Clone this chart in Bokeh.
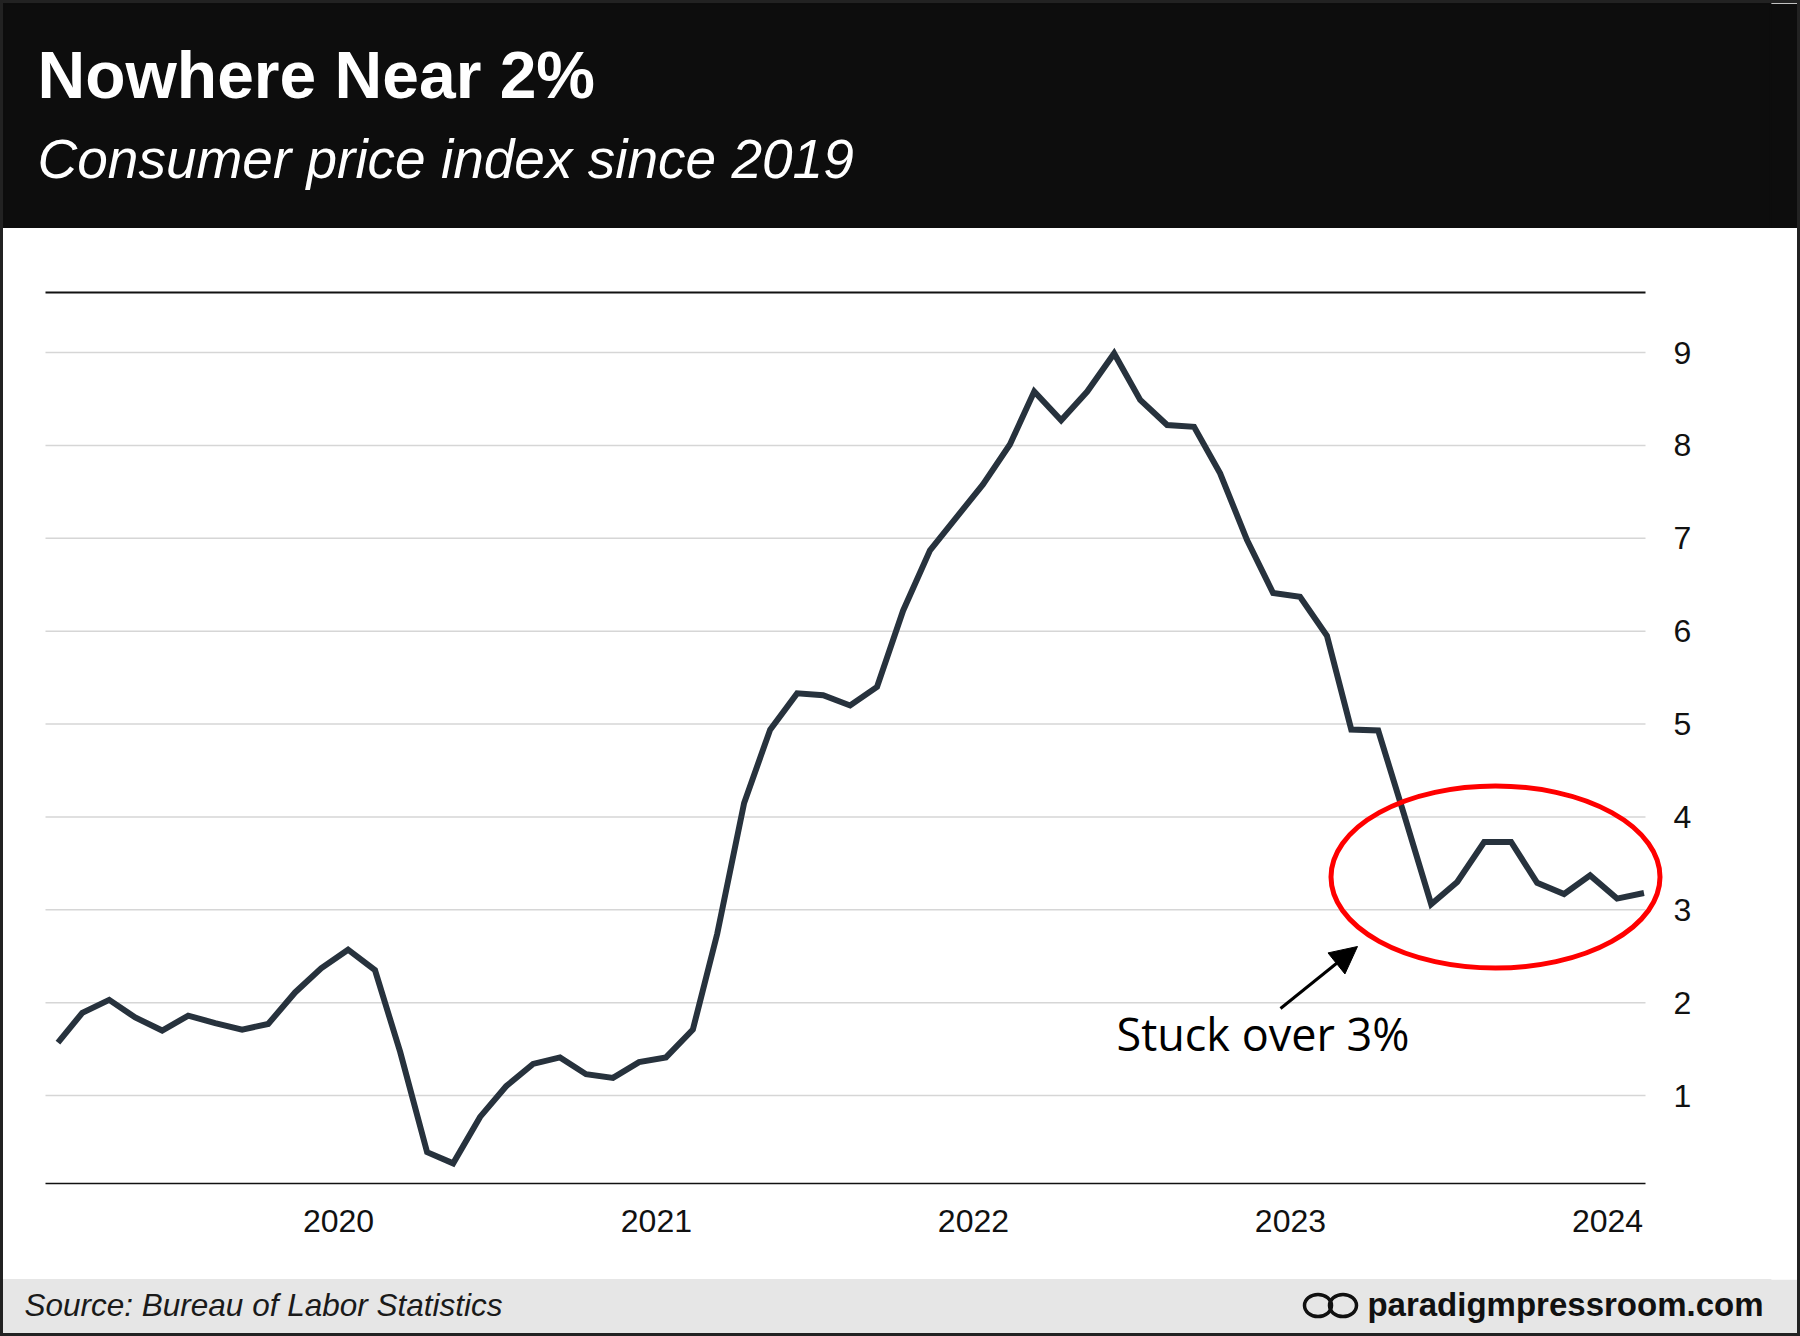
import pandas as pd
from bokeh.plotting import figure
from bokeh.layouts import column
from bokeh.models import (Range1d, FixedTicker, LinearAxis, Label,
                          Arrow, NormalHead, DatetimeTickFormatter)
from bokeh.embed import file_html
from bokeh.resources import INLINE

# ---------------- data ----------------
first_month = "2019-02-01"
cpi_yoy = [
    # 2019 Feb..Dec
    1.57, 1.89, 2.03, 1.84, 1.70, 1.86, 1.78, 1.71, 1.77, 2.11, 2.37,
    # 2020
    2.57, 2.35, 1.47, 0.39, 0.27, 0.77, 1.10, 1.34, 1.41, 1.23, 1.19, 1.36,
    # 2021
    1.41, 1.71, 2.74, 4.15, 4.94, 5.33, 5.31, 5.20, 5.40, 6.22, 6.87, 7.22,
    # 2022
    7.58, 8.01, 8.58, 8.27, 8.58, 8.99, 8.49, 8.22, 8.20, 7.70, 6.98, 6.41,
    # 2023
    6.37, 5.95, 4.94, 4.93, 4.02, 3.06, 3.30, 3.73, 3.73, 3.29, 3.17, 3.37,
    # 2024 Jan..Feb
    3.12, 3.18,
]
tick_years = [2020, 2021, 2022, 2023, 2024]
y_ticks = [1, 2, 3, 4, 5, 6, 7, 8, 9]

title_text = "Nowhere Near 2%"
subtitle_text = "Consumer price index since 2019"
source_text = "Source: Bureau of Labor Statistics"
site_text = "paradigmpressroom.com"
note_text = "Stuck over 3%"

dates = pd.date_range(first_month, periods=len(cpi_yoy), freq="MS") + pd.Timedelta(days=11)

# ---------------- layout helpers (page pixel -> data) ----------------
T2020 = pd.Timestamp("2020-01-01").value / 1e6
PX_PER_DAY = 317.25 / 365.25
DAY_MS = 86400000.0
PAD = 3                      # dark outer frame
W = 1800 - 2 * PAD           # width of each stacked figure
FRAME_RIGHT = 1770           # page x of frame right edge
RB = (W + PAD) - FRAME_RIGHT  # right border of every figure
HEADER_BOTTOM = 228
FOOTER_TOP = 1279
TOTAL_H = 1336
BASE_FIX = 0.33              # baseline correction (in em) for labels


def px_to_x(px):
    return T2020 + (px - 338.0) / PX_PER_DAY * DAY_MS


def px_to_y(py):
    return (1187.9 - py) / 92.875


def band(top, bottom, color):
    f = figure(width=W, height=bottom - top, x_range=Range1d(PAD, FRAME_RIGHT),
               y_range=Range1d(bottom, top),
               x_axis_location=None, y_axis_location=None, title=None,
               min_border_left=0, min_border_right=RB, min_border_top=0, min_border_bottom=0,
               output_backend="svg", toolbar_location=None)
    f.background_fill_color = color
    f.border_fill_color = color
    f.outline_line_color = color
    f.outline_line_width = 2
    f.grid.visible = False
    return f


def text(fig, x, y, s, size, style="normal", font="Liberation Sans", color="white", align="left"):
    fig.add_layout(Label(x=x, y=y - BASE_FIX * size, text=s, text_font=font,
                         text_font_style=style, text_font_size=f"{size}px",
                         text_color=color, text_baseline="alphabetic", text_align=align))


# ---------------- header ----------------
hdr = band(PAD, HEADER_BOTTOM, "#0d0d0d")
text(hdr, 37, 96, title_text, 66, "bold")
text(hdr, 37, 177, subtitle_text, 55, "italic")

# ---------------- main chart ----------------
main_h = FOOTER_TOP - HEADER_BOTTOM
x_start, x_end_line = px_to_x(45), px_to_x(1645)

p = figure(width=W, height=main_h, x_axis_type="datetime", y_axis_location="right",
           x_range=Range1d(px_to_x(PAD), px_to_x(FRAME_RIGHT)),
           y_range=Range1d(px_to_y(1183), px_to_y(292)),
           output_backend="svg", toolbar_location=None, title=None,
           min_border_left=0, min_border_right=RB,
           min_border_top=292 - HEADER_BOTTOM, min_border_bottom=FOOTER_TOP - 1183)
p.outline_line_color = None
p.background_fill_color = "white"
p.border_fill_color = "white"
p.xgrid.visible = False
p.ygrid.visible = False

# horizontal grid lines (limited to the data span)
p.segment(x0=[x_start] * len(y_ticks), x1=[x_end_line] * len(y_ticks),
          y0=y_ticks, y1=y_ticks, line_color="#d6d6d6", line_width=1.5)

# x axis
xa = p.xaxis[0]
xa.ticker = FixedTicker(ticks=[pd.Timestamp(f"{y}-01-01").value / 1e6 for y in tick_years])
xa.formatter = DatetimeTickFormatter(years="%Y", months="%Y", days="%Y", hours="%Y")
xa.bounds = (x_start, x_end_line)
xa.axis_line_color = "#111111"
xa.axis_line_width = 1.5
xa.major_tick_line_color = None
xa.minor_tick_line_color = None
xa.major_label_standoff = 20
xa.major_label_text_font = "Liberation Sans"
xa.major_label_text_font_size = "32px"
xa.major_label_text_color = "#111111"

# y axis, labels drawn just right of the data span
ya = p.yaxis[0]
ya.ticker = FixedTicker(ticks=y_ticks)
ya.fixed_location = px_to_x(1673)
ya.axis_line_color = None
ya.major_tick_line_color = None
ya.minor_tick_line_color = None
ya.major_tick_out = 0
ya.major_label_standoff = 0
ya.major_label_text_font = "Liberation Sans"
ya.major_label_text_font_size = "32px"
ya.major_label_text_color = "#111111"

# top rule
top = LinearAxis(bounds=(x_start, x_end_line), axis_line_color="#111111", axis_line_width=2,
                 major_tick_line_color=None, minor_tick_line_color=None,
                 major_label_text_font_size="0px", major_label_text_color=None)
p.add_layout(top, "above")

# the series
p.line(dates, cpi_yoy, line_color="#27323d", line_width=6, line_join="miter")

# highlight ellipse
p.ellipse(x=[px_to_x(1495)], y=[px_to_y(876.5)],
          width=[329 / PX_PER_DAY * DAY_MS], height=[182 / 92.875],
          fill_color=None, line_color="#ff0000", line_width=5)

# arrow + note
p.add_layout(Arrow(end=NormalHead(size=27, fill_color="black", line_color="black", line_width=1),
                   x_start=px_to_x(1280), y_start=px_to_y(1008),
                   x_end=px_to_x(1357), y_end=px_to_y(946),
                   line_color="black", line_width=3))
p.add_layout(Label(x=px_to_x(1116), y=px_to_y(1048 - BASE_FIX * 45), text=note_text,
                   text_font="Open Sans", text_font_size="45px", text_color="black",
                   text_baseline="alphabetic", text_align="left"))

# ---------------- footer ----------------
ftr = band(FOOTER_TOP, TOTAL_H - PAD, "#e6e6e6")
text(ftr, 24, 1315, source_text, 31.5, "italic", color="#1a1a1a")
text(ftr, 1763, 1315, site_text, 33, "bold", color="#111111", align="right")
# infinity-style logo drawn as two touching loops
ftr.ellipse(x=[1317.5, 1342.5], y=[1305, 1305], width=[27, 27], height=[22, 22],
            fill_color=None, line_color="#111111", line_width=3.5)

layout = column(hdr, p, ftr, spacing=0,
                styles={"border": f"{PAD}px solid #222222", "background-color": "white"})
open("out.html", "w").write(file_html(layout, INLINE))
